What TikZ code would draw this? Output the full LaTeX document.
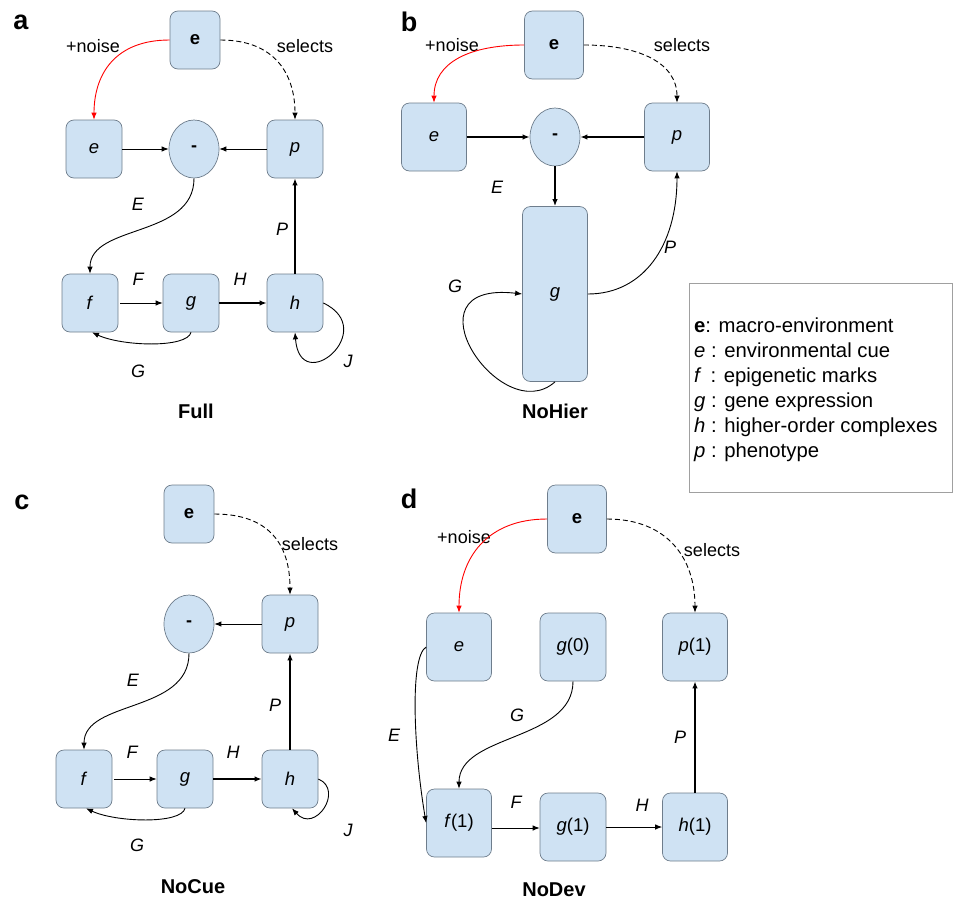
\documentclass[tikz,border=0pt]{standalone}
\usepackage{fontspec}
\setmainfont{Liberation Sans}
\usetikzlibrary{shapes.geometric,arrows.meta}
\definecolor{boxfill}{HTML}{CFE2F3}
\definecolor{boxline}{RGB}{110,125,140}
\definecolor{noisered}{HTML}{FF0000}
\definecolor{legline}{RGB}{160,160,160}
\begin{document}
\begin{tikzpicture}[x=1pt,y=-1pt,
  bx/.style={draw=boxline, fill=boxfill, rounded corners=8pt, line width=0.7pt, inner sep=0pt, font=\fontsize{18.5}{20}\selectfont},
  sz/.style 2 args={minimum width=#1, minimum height=#2},
  ov/.style={ellipse, draw=boxline, fill=boxfill, line width=0.7pt, inner sep=0pt, minimum width=50pt, minimum height=58pt, font=\fontsize{18}{20}\selectfont\bfseries},
  con/.style={-{Latex[length=7pt,width=5.5pt]}, line width=0.9pt},
  tcon/.style={con, line width=1.7pt},
  noise/.style={con, draw=noisered},
  sel/.style={con, dash pattern=on 5pt off 3pt},
  lab/.style={font=\fontsize{18}{20}\selectfont\itshape, inner sep=0pt},
  txt/.style={font=\fontsize{18}{20}\selectfont, inner sep=0pt},
  ttl/.style={font=\fontsize{20}{24}\selectfont\bfseries, inner sep=0pt},
  pl/.style={font=\fontsize{27}{30}\selectfont\bfseries, inner sep=0pt},
]
\useasboundingbox (0,0) rectangle (953,900);

% ---------------- panel a ----------------
\node[pl] (la) at (21,22) {a};
\node[bx, sz={50pt}{58pt}] (aE) at (195,40) {\textbf{e}};
\node[bx, sz={56pt}{58pt}] (ae) at (94,149) {\textit{e}};
\node[ov] (am) at (194,149) {-};
\node[bx, sz={56pt}{58pt}] (ap) at (295,149) {\textit{p}};
\node[bx, sz={56pt}{58pt}] (af) at (90,303) {\textit{f}};
\node[bx, sz={56pt}{58pt}] (ag) at (191,303) {\textit{g}};
\node[bx, sz={56pt}{58pt}] (ah) at (295,303) {\textit{h}};
\node[txt] (anoise) at (93,46) {+noise};
\node[txt] (asel) at (305,46) {selects};
\node[lab] (aEl) at (138,204) {E};
\node[lab] (aPl) at (282,229) {P};
\node[lab] (aFl) at (138,279) {F};
\node[lab] (aHl) at (240,279) {H};
\node[lab] (aGl) at (138,371) {G};
\node[lab] (aJl) at (348,361) {J};
\node[ttl] (atitle) at (196,411) {Full};
\draw[noise] (aE.west) .. controls +(-55,0) and +(0,-45) .. (ae.north);
\draw[sel] (aE.east) .. controls +(55,0) and +(0,-45) .. (ap.north);
\draw[con] (ae) -- (am);
\draw[con] (ap) -- (am);
\draw[con] (am.south) .. controls +(0,60) and +(0,-50) .. (af.north);
\draw[con, shorten <=2pt] (af) -- (ag);
\draw[tcon] (ag) -- (ah);
\draw[tcon] (ah) -- (ap);
\draw[con] (ag.south) .. controls +(-4,16) and +(30,14) .. ([xshift=2pt]af.south);
\draw[con] (ah.east) .. controls +(57,27) and +(5,66) .. (ah.south);

% ---------------- panel b ----------------
\node[pl] (lb) at (409,22) {b};
\node[bx, sz={59pt}{68pt}] (bE) at (554,45) {\textbf{e}};
\node[bx, sz={65pt}{68pt}] (be) at (434,137) {\textit{e}};
\node[ov] (bm) at (555,137) {-};
\node[bx, sz={65pt}{68pt}] (bp) at (677,137) {\textit{p}};
\node[bx, sz={65pt}{175pt}] (bg) at (555,294) {\textit{g}};
\node[txt] (bnoise) at (452,45) {+noise};
\node[txt] (bsel) at (682,45) {selects};
\node[lab] (bEl) at (497,187) {E};
\node[lab] (bPl) at (670,247) {P};
\node[lab] (bGl) at (455,286) {G};
\node[ttl] (btitle) at (555,411) {NoHier};
\draw[noise] (bE.west) .. controls +(-55,0) and +(0,-40) .. (be.north);
\draw[sel] (bE.east) .. controls +(55,0) and +(0,-40) .. (bp.north);
\draw[tcon] (be) -- (bm);
\draw[tcon] (bp) -- (bm);
\draw[tcon] (bm) -- (bg);
\draw[con] (bg.east) .. controls +(55,0) and +(0,75) .. (bp.south);
\draw[con] (bg.south) .. controls +(-54,48) and +(-121,-14) .. (bg.west);

% ---------------- legend ----------------
\draw[draw=legline, line width=0.8pt] (689,283) rectangle (952,492);
\node[anchor=west, inner sep=0pt, align=left, font=\fontsize{20.3}{25}\selectfont] (leg) at (694,390)
  {\textbf{e}: macro-environment\\
   \textit{e} : environmental cue\\
   \textit{f}\, : epigenetic marks\\
   \textit{g} : gene expression\\
   \textit{h} : higher-order complexes\\
   \textit{p} : phenotype};

% ---------------- panel c ----------------
\node[pl] (lc) at (22,502) {c};
\node[bx, sz={50pt}{58pt}] (cE) at (189,514) {\textbf{e}};
\node[ov] (cm) at (189,624) {-};
\node[bx, sz={56pt}{58pt}] (cp) at (290,624) {\textit{p}};
\node[bx, sz={56pt}{58pt}] (cf) at (84,779) {\textit{f}};
\node[bx, sz={56pt}{58pt}] (cg) at (185,779) {\textit{g}};
\node[bx, sz={56pt}{58pt}] (ch) at (290,779) {\textit{h}};
\node[txt] (csel) at (310,544) {selects};
\node[lab] (cEl) at (133,680) {E};
\node[lab] (cPl) at (275,705) {P};
\node[lab] (cFl) at (132,752) {F};
\node[lab] (cHl) at (233,752) {H};
\node[lab] (cGl) at (137,845) {G};
\node[lab] (cJl) at (348,830) {J};
\node[ttl] (ctitle) at (193,887) {NoCue};
\draw[sel] (cE.east) .. controls +(55,0) and +(0,-50) .. (cp.north);
\draw[con] (cp) -- (cm);
\draw[con] (cm.south) .. controls +(0,60) and +(0,-50) .. (cf.north);
\draw[con, shorten <=2pt] (cf) -- (cg);
\draw[tcon] (cg) -- (ch);
\draw[tcon] (ch) -- (cp);
\draw[con] (cg.south) .. controls +(-4,16) and +(30,14) .. ([xshift=2pt]cf.south);
\draw[con] (ch.east) .. controls +(26,11) and +(23,26) .. ([xshift=2pt]ch.south);

% ---------------- panel d ----------------
\node[pl] (ld) at (409,499) {d};
\node[bx, sz={59pt}{68pt}] (dE) at (577,519) {\textbf{e}};
\node[bx, sz={65pt}{68pt}] (de) at (459,647) {\textit{e}};
\node[bx, sz={66pt}{68pt}] (dg0) at (573,647) {\textit{g}(0)};
\node[bx, sz={65pt}{68pt}] (dp) at (695,647) {\textit{p}(1)};
\node[bx, sz={65pt}{68pt}] (df) at (459,823) {\textit{f}(1)};
\node[bx, sz={66pt}{68pt}] (dg) at (573,827) {\textit{g}(1)};
\node[bx, sz={65pt}{68pt}] (dh) at (695,827) {\textit{h}(1)};
\node[txt] (dnoise) at (464,537) {+noise};
\node[txt] (dsel) at (712,550) {selects};
\node[lab] (dEl) at (394,735) {E};
\node[lab] (dGl) at (517,715) {G};
\node[lab] (dPl) at (680,737) {P};
\node[lab] (dFl) at (516,802) {F};
\node[lab] (dHl) at (642,805) {H};
\node[ttl] (dtitle) at (554,890) {NoDev};
\draw[noise] (dE.west) .. controls +(-60,0) and +(0,-55) .. (de.north);
\draw[sel] (dE.east) .. controls +(60,0) and +(0,-55) .. (dp.north);
\draw[con] (de.west) .. controls +(-17,10) and +(-12,-70) .. (df.west);
\draw[con] (dg0.south) .. controls +(0,60) and +(0,-55) .. (df.north);
\draw[con] ([yshift=-5pt]df.east) -- ([yshift=-1pt]dg.west);
\draw[con] (dg) -- (dh);
\draw[tcon] (dh) -- (dp);
\end{tikzpicture}
\end{document}
